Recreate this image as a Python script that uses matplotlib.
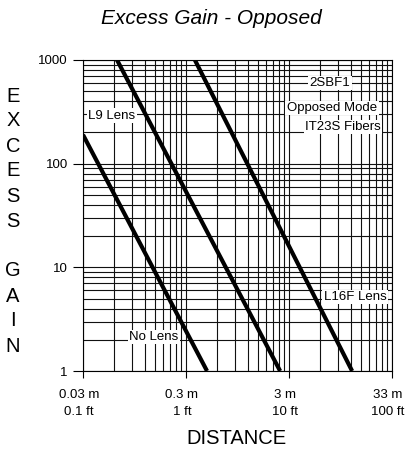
import numpy as np
import matplotlib
matplotlib.use('Agg')
import matplotlib.pyplot as plt
import matplotlib.transforms as mtransforms
from matplotlib.ticker import FixedLocator, NullFormatter

plt.rcParams['font.family'] = ['Liberation Sans', 'DejaVu Sans']

# excess gain curves, distance in ft
no_lens_ft = [0.1, 1.6]
no_lens_gain = [190, 1]
l9_ft = [0.214, 8.2]
l9_gain = [1000, 1]
l16f_ft = [1.22, 41]
l16f_gain = [1000, 1]

x_ticks = [0.1, 1, 10, 100]
x_labels = ['0.03 m\n0.1 ft', '0.3 m\n1 ft', '3 m\n10 ft', '33 m\n100 ft']
y_ticks = [1, 10, 100, 1000]
y_labels = ['1', '10', '100', '1000']

fig = plt.figure(figsize=(4.06, 4.55), dpi=100)
ax = fig.add_axes([83 / 406, 1 - 371 / 455, (392 - 83) / 406, (371 - 60) / 455])

ax.set_xscale('log')
ax.set_yscale('log')
ax.set_xlim(0.1, 100)
ax.set_ylim(1, 1000)

minor_x = [m * 10.0 ** e for e in range(-1, 2) for m in range(2, 10)]
minor_y = [m * 10.0 ** e for e in range(0, 3) for m in range(2, 10)]
ax.xaxis.set_major_locator(FixedLocator(x_ticks))
ax.yaxis.set_major_locator(FixedLocator(y_ticks))
ax.xaxis.set_minor_locator(FixedLocator(minor_x))
ax.yaxis.set_minor_locator(FixedLocator(minor_y))
ax.xaxis.set_minor_formatter(NullFormatter())
ax.yaxis.set_minor_formatter(NullFormatter())
ax.set_xticklabels(x_labels)
ax.set_yticklabels(y_labels)

ax.grid(which='both', color='#111111', lw=0.8)
ax.tick_params(which='minor', length=0)
ax.tick_params(axis='y', which='major', length=7, width=0.8, labelsize=9.5, pad=4)
ax.tick_params(axis='x', which='major', length=5, width=0.8, labelsize=9.5, pad=8)
for s in ax.spines.values():
    s.set_linewidth(0.8)

# shift the x labels a little to the left like the original
shift = mtransforms.ScaledTranslation(-4 / 100, 0, fig.dpi_scale_trans)
for lab in ax.get_xticklabels():
    lab.set_linespacing(1.55)
    lab.set_transform(lab.get_transform() + shift)

ax.plot(no_lens_ft, no_lens_gain, color='black', lw=3, solid_capstyle='butt', zorder=5)
ax.plot(l9_ft, l9_gain, color='black', lw=3, solid_capstyle='butt', zorder=5)
ax.plot(l16f_ft, l16f_gain, color='black', lw=3, solid_capstyle='butt', zorder=5)

box = dict(facecolor='white', edgecolor='none', pad=1)
ax.text(0.49, 2.13, 'No Lens', fontsize=9.5, ha='center', va='center', bbox=box, zorder=4)
ax.text(0.191, 290, 'L9 Lens', fontsize=9.5, ha='center', va='center', bbox=box, zorder=4)
ax.text(43.7, 5.17, 'L16F Lens', fontsize=9.5, ha='center', va='center', bbox=box, zorder=4)

fig.text(330 / 406, 1 - 83 / 455, '2SBF1', fontsize=9.5, ha='center', va='center',
         bbox=box, zorder=6)
fig.text(332 / 406, 1 - 108 / 455, 'Opposed Mode', fontsize=9.5, ha='center', va='center',
         bbox=box, zorder=6)
fig.text(343 / 406, 1 - 127 / 455, 'IT23S Fibers', fontsize=9.5, ha='center', va='center',
         bbox=box, zorder=6)

fig.text(211 / 406, 1 - 19 / 455, 'Excess Gain - Opposed', fontsize=15,
         style='italic', ha='center', va='center')
fig.text(236 / 406, 1 - 439 / 455, 'DISTANCE', fontsize=14.5, ha='center', va='center')
fig.text(13 / 406, 1 - 221 / 455, '\n'.join('EXCESS GAIN'), fontsize=14.5,
         ha='center', va='center', linespacing=1.4)

fig.savefig('out.png', dpi=100)
